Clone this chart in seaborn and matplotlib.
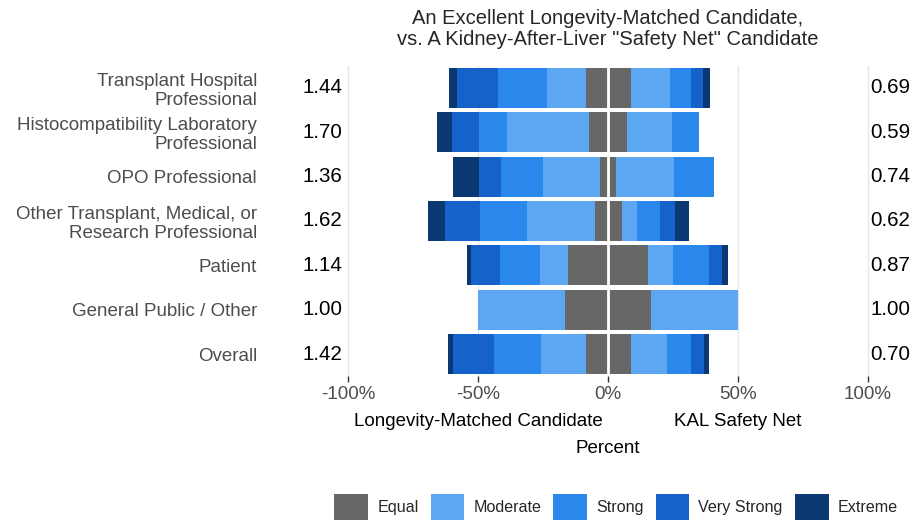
import numpy as np
import pandas as pd
import matplotlib
matplotlib.use("Agg")
import matplotlib.pyplot as plt
import matplotlib.transforms as mtransforms
from matplotlib.patches import Patch
import seaborn as sns

sns.set_style("white")
plt.rcParams['font.family'] = ['Liberation Sans', 'DejaVu Sans']

categories = ["Transplant Hospital\nProfessional",
              "Histocompatibility Laboratory\nProfessional",
              "OPO Professional",
              "Other Transplant, Medical, or\nResearch Professional",
              "Patient",
              "General Public / Other",
              "Overall"]

# percent of respondents, left = Longevity-Matched, right = KAL Safety Net
equal = [17.3, 14.8, 6.2, 10.4, 30.9, 33.3, 17.3]
moderate_l = [14.7, 31.4, 22.0, 25.9, 10.6, 33.3, 17.3]
strong_l = [18.8, 11.0, 16.2, 18.1, 15.5, 0.0, 18.1]
very_strong_l = [15.8, 10.4, 8.4, 13.6, 11.0, 0.0, 15.6]
extreme_l = [3.2, 5.6, 10.0, 6.5, 1.7, 0.0, 1.9]
moderate_r = [15.3, 17.2, 22.3, 5.8, 9.7, 33.3, 14.0]
strong_r = [8.0, 10.4, 15.5, 9.1, 13.6, 0.0, 9.1]
very_strong_r = [4.7, 0.0, 0.0, 5.8, 5.2, 0.0, 5.1]
extreme_r = [2.6, 0.0, 0.0, 5.2, 2.2, 0.0, 2.0]

ratio_left = ["1.44", "1.70", "1.36", "1.62", "1.14", "1.00", "1.42"]
ratio_right = ["0.69", "0.59", "0.74", "0.62", "0.87", "1.00", "0.70"]

levels = ["Equal", "Moderate", "Strong", "Very Strong", "Extreme"]
colors = {"Equal": "#676767", "Moderate": "#5ca6f2", "Strong": "#2a88ec",
          "Very Strong": "#1662cb", "Extreme": "#0b3872"}

df = pd.DataFrame({"group": categories, "equal": equal,
                   "mod_l": moderate_l, "str_l": strong_l, "vs_l": very_strong_l, "ext_l": extreme_l,
                   "mod_r": moderate_r, "str_r": strong_r, "vs_r": very_strong_r, "ext_r": extreme_r})

# cumulative extents from the centre out
half = df["equal"] / 2
left_layers = [("Equal", half)]
right_layers = [("Equal", half)]
cl = half.copy()
cr = half.copy()
for lev, lcol, rcol in [("Moderate", "mod_l", "mod_r"), ("Strong", "str_l", "str_r"),
                        ("Very Strong", "vs_l", "vs_r"), ("Extreme", "ext_l", "ext_r")]:
    cl = cl + df[lcol]
    cr = cr + df[rcol]
    left_layers.append((lev, cl.copy()))
    right_layers.append((lev, cr.copy()))

fig = plt.figure(figsize=(9.16, 5.23), dpi=100)
ax = fig.add_axes([0.3686, 0.2807, 0.5904, 0.5935])

for lev, vals in reversed(left_layers):
    sns.barplot(x=-vals, y=df["group"], order=categories, orient="h", color=colors[lev],
                saturation=1, width=0.9, errorbar=None, linewidth=0, ax=ax, zorder=3)
for lev, vals in reversed(right_layers):
    sns.barplot(x=vals, y=df["group"], order=categories, orient="h", color=colors[lev],
                saturation=1, width=0.9, errorbar=None, linewidth=0, ax=ax, zorder=3)

ax.axvline(0, color="white", lw=2, zorder=5)
ax.set_xlim(-104, 104)
ax.set_ylim(6.5, -0.5)
ax.set_xticks([-100, -50, 0, 50, 100])
ax.set_xticklabels(["-100%", "-50%", "0%", "50%", "100%"])
ax.grid(axis="x", color="#e8e8e8", lw=1, zorder=0)
ax.grid(axis="y", visible=False)
for s in ax.spines.values():
    s.set_visible(False)
ax.tick_params(axis="x", colors="#4d4d4d", labelsize=13.5, length=4, width=1, pad=3,
               bottom=True)
ax.tick_params(axis="x", color="#333333")
ax.tick_params(axis="y", labelsize=13.5, labelcolor="#4d4d4d", length=0, pad=58)
for t in ax.get_yticklabels():
    t.set_linespacing(1.15)

ax.set_ylabel("")
ax.set_xlabel("Percent", fontsize=13.5, color="black")
ax.xaxis.set_label_coords(0.5, -0.205)

tr = mtransforms.blended_transform_factory(ax.transData, ax.transAxes)
ax.text(-50, -0.145, "Longevity-Matched Candidate", transform=tr, ha="center", va="center",
        fontsize=13.5, color="black")
ax.text(50, -0.145, "KAL Safety Net", transform=tr, ha="center", va="center",
        fontsize=13.5, color="black")

tr2 = mtransforms.blended_transform_factory(fig.transFigure, ax.transData)
for i in range(len(categories)):
    ax.text(322 / 916, i, ratio_left[i], transform=tr2, ha="center", va="center",
            fontsize=14.8, color="black")
    ax.text(890 / 916, i, ratio_right[i], transform=tr2, ha="center", va="center",
            fontsize=14.8, color="black")

ax.set_title("An Excellent Longevity-Matched Candidate,\nvs. A Kidney-After-Liver \"Safety Net\" Candidate",
             fontsize=14.5, linespacing=1.1, pad=15)

handles = [Patch(facecolor=colors[l], edgecolor="none", label=l) for l in levels]
fig.legend(handles=handles, loc="center", bbox_to_anchor=(616 / 916, 1 - 507 / 523), ncol=5,
           frameon=False, fontsize=11.6, handlelength=2.1, handleheight=2.1,
           handletextpad=0.55, columnspacing=0.75, borderaxespad=0)

fig.savefig("out.png", dpi=100)
